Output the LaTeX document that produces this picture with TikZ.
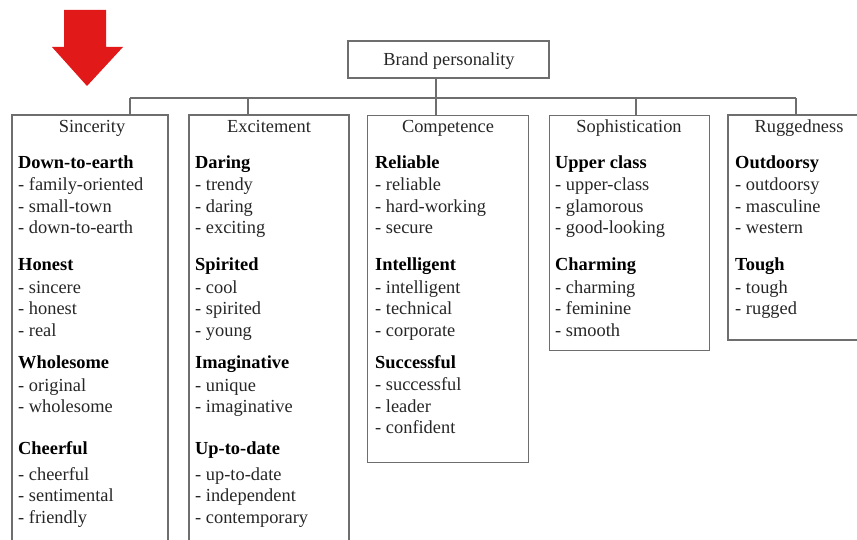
\documentclass[tikz,border=0pt]{standalone}
\usepackage{fontspec}
\setmainfont{Liberation Serif}
\definecolor{boxgray}{RGB}{110,110,110}
\definecolor{arrowred}{RGB}{225,25,25}
\begin{document}
\begin{tikzpicture}[x=1pt,y=-1pt,
  frame/.style={draw=boxgray, line width=1.4pt},
  itm/.style={anchor=base west, inner sep=0pt, text=black!85, font=\fontsize{18.4}{21.6}\selectfont},
  hd/.style={itm, text=black, font=\fontsize{18.4}{21.6}\selectfont\bfseries},
  ttl/.style={inner sep=0pt, anchor=base, text=black!85, font=\fontsize{18.4}{21.6}\selectfont},
  conn/.style={draw=boxgray, line width=1.4pt}]
\useasboundingbox (0,0) rectangle (857,540);
% red arrow
\fill[arrowred] (64,10) -- (106,10) -- (106,47) -- (123,47) -- (87,86) -- (52,47) -- (64,47) -- cycle;
% top box
\node[frame, minimum width=201pt, minimum height=37pt, inner sep=0pt] (brand) at (448.5,59.5) {};
\node[ttl] (brandt) at (449,66) {Brand personality};
% boxes
\node[frame, anchor=north west, minimum width=161pt, minimum height=347pt, inner sep=0pt] (comp) at (367,115) {};
\node[frame, anchor=north west, minimum width=160pt, minimum height=235pt, inner sep=0pt] (soph) at (549,115) {};
\draw[frame] (12,545) -- (12,115) -- (168,115) coordinate (sinc) -- (168,545);
\draw[frame] (189,545) -- (189,115) -- (349,115) coordinate (exci) -- (349,545);
\draw[frame] (860,115) -- (728,115) coordinate (rugg) -- (728,340) -- (860,340);
% connectors
\coordinate (b1) at (130,98);
\coordinate (b2) at (248,98);
\coordinate (b3) at (436,98);
\coordinate (b4) at (636,98);
\coordinate (b5) at (796,98);
\draw[conn] (b1) -- (b5);
\draw[conn] (brand.south -| b3) -- (b3) -- (b3 |- comp.north);
\draw[conn] (b1) -- (b1 |- sinc);
\draw[conn] (b2) -- (b2 |- exci);
\draw[conn] (b4) -- (b4 |- soph.north);
\draw[conn] (b5) -- (b5 |- rugg);
% titles
\node[ttl] (t1) at (92,133) {Sincerity};
\node[ttl] (t2) at (269,133) {Excitement};
\node[ttl] (t3) at (448,133) {Competence};
\node[ttl] (t4) at (629,133) {Sophistication};
\node[ttl] (t5) at (799,133) {Ruggedness};
% Sincerity
\foreach \y/\t/\s [count=\i] in {169/Down-to-earth/hd, 191/- family-oriented/itm, 213/- small-town/itm, 234/- down-to-earth/itm,
  271/Honest/hd, 293/- sincere/itm, 314/- honest/itm, 336/- real/itm,
  368/Wholesome/hd, 391/- original/itm, 412/- wholesome/itm,
  454/Cheerful/hd, 480/- cheerful/itm, 501/- sentimental/itm, 523/- friendly/itm}
  \node[\s] (s\i) at (18,\y) {\t};
% Excitement
\foreach \y/\t/\s [count=\i] in {169/Daring/hd, 191/- trendy/itm, 213/- daring/itm, 234/- exciting/itm,
  271/Spirited/hd, 293/- cool/itm, 314/- spirited/itm, 336/- young/itm,
  368/Imaginative/hd, 391/- unique/itm, 412/- imaginative/itm,
  454/Up-to-date/hd, 480/- up-to-date/itm, 501/- independent/itm, 523/- contemporary/itm}
  \node[\s] (e\i) at (195,\y) {\t};
% Competence
\foreach \y/\t/\s [count=\i] in {169/Reliable/hd, 191/- reliable/itm, 213/- hard-working/itm, 234/- secure/itm,
  271/Intelligent/hd, 293/- intelligent/itm, 314/- technical/itm, 336/- corporate/itm,
  368/Successful/hd, 390/- successful/itm, 412/- leader/itm, 433/- confident/itm}
  \node[\s] (c\i) at (375,\y) {\t};
% Sophistication
\foreach \y/\t/\s [count=\i] in {169/Upper class/hd, 191/- upper-class/itm, 213/- glamorous/itm, 234/- good-looking/itm,
  271/Charming/hd, 293/- charming/itm, 314/- feminine/itm, 336/- smooth/itm}
  \node[\s] (p\i) at (555,\y) {\t};
% Ruggedness
\foreach \y/\t/\s [count=\i] in {169/Outdoorsy/hd, 191/- outdoorsy/itm, 213/- masculine/itm, 234/- western/itm,
  271/Tough/hd, 293/- tough/itm, 314/- rugged/itm}
  \node[\s] (r\i) at (735,\y) {\t};
\end{tikzpicture}
\end{document}
